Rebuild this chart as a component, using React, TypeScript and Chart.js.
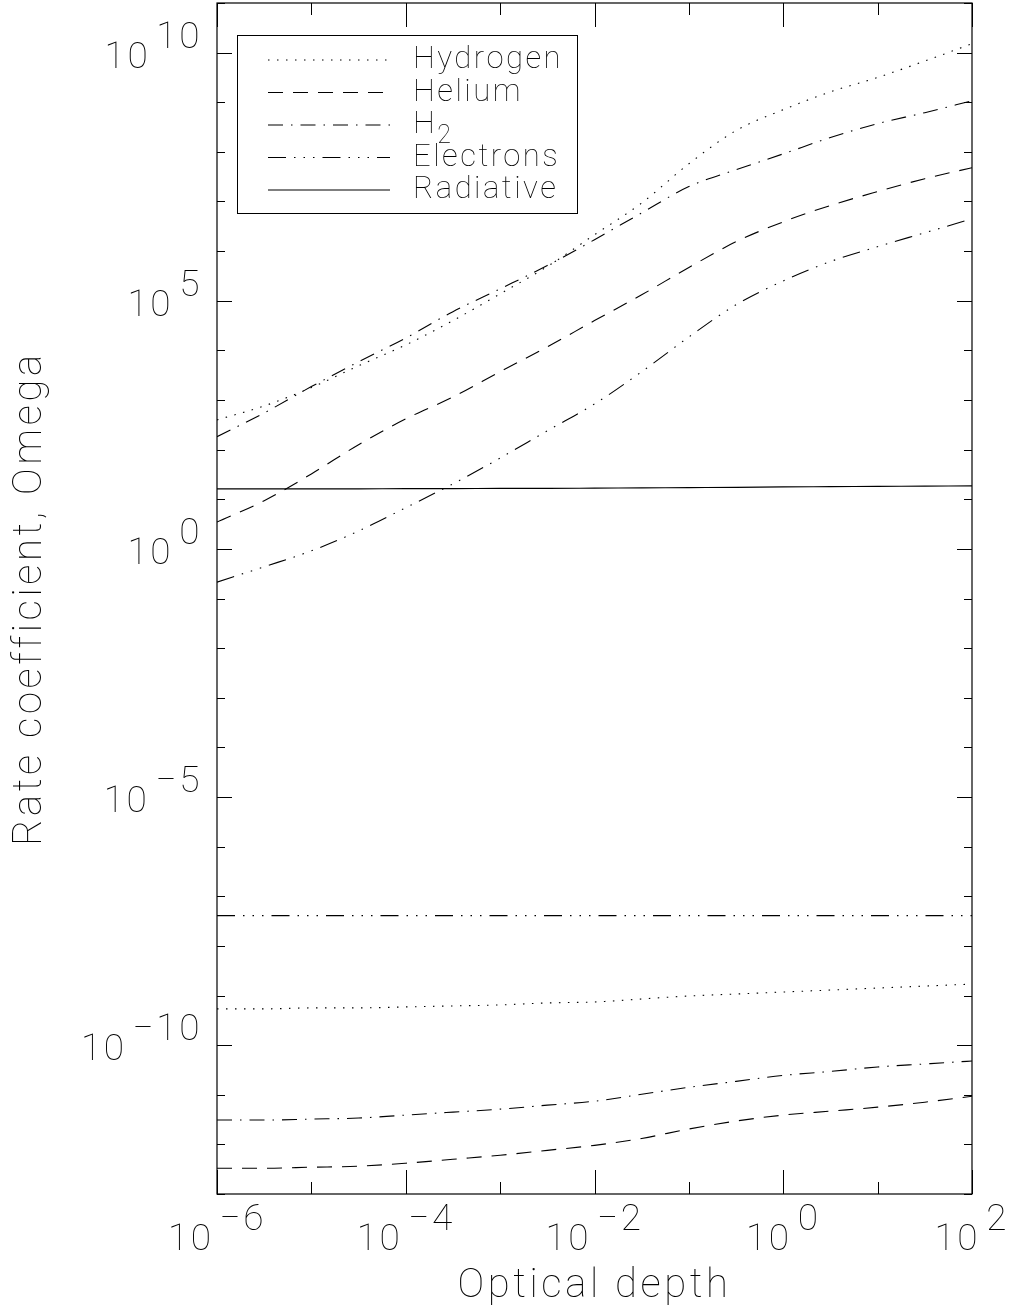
import React, { useEffect, useRef } from "react";
import { Chart, registerables } from "chart.js";

Chart.register(...registerables);

// Optical depth grid (log10 tau)
const TAU_LOG10 = [-6, -5.5, -5, -4.5, -4, -3.5, -3, -2.5, -2, -1.5, -1, -0.5, 0, 0.5, 1, 1.5, 2];

// Rate coefficients (log10 Omega), upper and lower branches per collider
const HYDROGEN_UPPER = [2.6, 2.88, 3.25, 3.69, 4.11, 4.6, 5.14, 5.69, 6.33, 6.97, 7.76, 8.43, 8.85, 9.21, 9.5, 9.83, 10.18];
const HYDROGEN_LOWER = [-9.27, -9.27, -9.25, -9.25, -9.23, -9.21, -9.19, -9.15, -9.13, -9.07, -9.01, -8.97, -8.93, -8.89, -8.85, -8.81, -8.77];
const HELIUM_UPPER = [0.54, 0.97, 1.51, 2.1, 2.62, 3.06, 3.57, 4.07, 4.6, 5.12, 5.67, 6.19, 6.59, 6.92, 7.2, 7.46, 7.68];
const HELIUM_LOWER = [-12.48, -12.48, -12.46, -12.44, -12.38, -12.3, -12.22, -12.12, -12.02, -11.88, -11.69, -11.53, -11.41, -11.33, -11.25, -11.15, -11.03];
const H2_UPPER = [2.26, 2.74, 3.27, 3.77, 4.25, 4.78, 5.24, 5.71, 6.23, 6.77, 7.3, 7.64, 7.96, 8.29, 8.57, 8.79, 9.03];
const H2_LOWER = [-11.51, -11.51, -11.49, -11.47, -11.41, -11.35, -11.29, -11.21, -11.13, -10.99, -10.85, -10.73, -10.61, -10.53, -10.44, -10.38, -10.32];
const ELECTRONS_UPPER = [-0.67, -0.36, -0.04, 0.36, 0.83, 1.31, 1.83, 2.38, 2.92, 3.57, 4.27, 4.92, 5.4, 5.79, 6.09, 6.37, 6.65];
const ELECTRONS_LOWER = [-7.39, -7.39, -7.39, -7.39, -7.39, -7.39, -7.39, -7.39, -7.39, -7.39, -7.39, -7.39, -7.39, -7.39, -7.39, -7.39, -7.39];
const RADIATIVE = [1.21, 1.21, 1.21, 1.21, 1.215, 1.215, 1.22, 1.22, 1.225, 1.23, 1.235, 1.24, 1.25, 1.255, 1.26, 1.265, 1.27];

const LEGEND_LABELS = ["Hydrogen", "Helium", "H2", "Electrons", "Radiative"];
const X_TICK_EXPONENTS = [-6, -4, -2, 0, 2];
const Y_TICK_EXPONENTS = [10, 5, 0, -5, -10];
const X_TITLE = "Optical depth";
const Y_TITLE = "Rate coefficient, Omega";

const DASHES: number[][] = [
  [1.5, 7.5],
  [15, 10],
  [15, 8, 1.5, 8],
  [18, 8, 1.5, 8, 1.5, 8, 1.5, 8],
  [],
];

const FONT_FAMILY = "Roboto, 'Liberation Sans', sans-serif";
const FONT_WEIGHT = "100";

function series(vals: number[]) {
  return TAU_LOG10.map((t, i) => ({ x: Math.pow(10, t), y: Math.pow(10, vals[i]) }));
}

export default function App() {
  const ref = useRef<HTMLCanvasElement | null>(null);

  useEffect(() => {
    const canvas = ref.current;
    if (!canvas) return;

    const groups = [
      [HYDROGEN_UPPER, HYDROGEN_LOWER],
      [HELIUM_UPPER, HELIUM_LOWER],
      [H2_UPPER, H2_LOWER],
      [ELECTRONS_UPPER, ELECTRONS_LOWER],
      [RADIATIVE],
    ];
    const datasets: any[] = [];
    groups.forEach((g, gi) => {
      g.forEach((vals, k) => {
        datasets.push({
          label: LEGEND_LABELS[gi] + (k ? " (low)" : ""),
          data: series(vals),
          borderColor: "#000",
          borderWidth: 1.1,
          borderDash: DASHES[gi],
          pointRadius: 0,
          fill: false,
          cubicInterpolationMode: "monotone",
        });
      });
    });

    const setFont = (ctx: CanvasRenderingContext2D, size: number, spacing = 0.07) => {
      ctx.font = `${FONT_WEIGHT} ${size}px ${FONT_FAMILY}`;
      (ctx as any).letterSpacing = `${(size * spacing).toFixed(1)}px`;
    };

    const decor = {
      id: "decor",
      afterDraw(chart: any) {
        const ctx: CanvasRenderingContext2D = chart.ctx;
        const xs = chart.scales.x;
        const ys = chart.scales.y;
        const a = chart.chartArea;
        ctx.save();
        ctx.strokeStyle = "#000";
        ctx.fillStyle = "#000";
        ctx.lineWidth = 1.2;
        ctx.setLineDash([]);
        // frame
        ctx.strokeRect(a.left, a.top, a.right - a.left, a.bottom - a.top);
        // x ticks (every decade, long at even exponents)
        ctx.lineWidth = 1;
        for (let e = -6; e <= 2; e++) {
          const px = Math.round(xs.getPixelForValue(Math.pow(10, e))) + 0.5;
          const len = e % 2 === 0 ? 24 : 12;
          ctx.beginPath();
          ctx.moveTo(px, a.bottom);
          ctx.lineTo(px, a.bottom - len);
          ctx.moveTo(px, a.top);
          ctx.lineTo(px, a.top + len);
          ctx.stroke();
        }
        // y ticks
        for (let e = -13; e <= 11; e++) {
          const py = Math.round(ys.getPixelForValue(Math.pow(10, e))) + 0.5;
          const len = e % 5 === 0 ? 15 : 8;
          ctx.beginPath();
          ctx.moveTo(a.left, py);
          ctx.lineTo(a.left + len, py);
          ctx.moveTo(a.right, py);
          ctx.lineTo(a.right - len, py);
          ctx.stroke();
        }
        // tick labels
        const fs = 37;
        setFont(ctx, fs);
        ctx.textBaseline = "alphabetic";
        ctx.textAlign = "left";
        const expStr = (e: number) => (e < 0 ? "\u2212" + Math.abs(e) : String(e));
        const gap = 6;
        X_TICK_EXPONENTS.forEach((e) => {
          const px = xs.getPixelForValue(Math.pow(10, e));
          const bw = ctx.measureText("10").width;
          const ew = ctx.measureText(expStr(e)).width;
          const total = bw + gap + ew;
          const x0 = Math.min(px - total / 2, 1009 - total);
          ctx.fillText("10", x0, 1250);
          ctx.fillText(expStr(e), x0 + bw + gap, 1230);
        });
        Y_TICK_EXPONENTS.forEach((e) => {
          const py = ys.getPixelForValue(Math.pow(10, e));
          const bw = ctx.measureText("10").width;
          const ew = ctx.measureText(expStr(e)).width;
          const right = 202;
          ctx.fillText(expStr(e), right - ew, py - 5);
          ctx.fillText("10", right - ew - gap - bw, py + 15);
        });
        // axis titles
        setFont(ctx, 40, 0.09);
        ctx.textAlign = "center";
        ctx.fillText(X_TITLE, (a.left + a.right) / 2, 1297);
        ctx.save();
        ctx.translate(41, (a.top + a.bottom) / 2);
        ctx.rotate(-Math.PI / 2);
        ctx.fillText(Y_TITLE, 0, 0);
        ctx.restore();

        // legend
        ctx.lineWidth = 1;
        ctx.strokeRect(237.5, 35.5, 340, 178);
        const rowBase = [68, 100.5, 133, 165.5, 198];
        const lfs = 31;
        LEGEND_LABELS.forEach((lab, i) => {
          const base = rowBase[i];
          ctx.setLineDash(DASHES[i]);
          ctx.lineWidth = 1.1;
          ctx.beginPath();
          ctx.moveTo(268, base - 8);
          ctx.lineTo(390, base - 8);
          ctx.stroke();
          ctx.setLineDash([]);
          setFont(ctx, lfs, 0.08);
          ctx.textAlign = "left";
          if (lab === "H2") {
            ctx.fillText("H", 413, base);
            const hw = ctx.measureText("H").width;
            setFont(ctx, 25, 0.08);
            ctx.fillText("2", 413 + hw, base + 10);
          } else {
            ctx.fillText(lab, 413, base);
          }
        });
        ctx.restore();
      },
    };

    const chart = new Chart(canvas, {
      type: "line",
      data: { datasets },
      options: {
        responsive: false,
        animation: false,
        layout: { padding: { left: 217, right: 39, top: 3, bottom: 119 } },
        plugins: { legend: { display: false }, tooltip: { enabled: false } },
        scales: {
          x: { type: "logarithmic", min: 1e-6, max: 1e2, display: false },
          y: { type: "logarithmic", min: 1e-13, max: 1e11, display: false },
        },
      },
      plugins: [decor],
    } as any);
    return () => chart.destroy();
  }, []);

  return (
    <div style={{ position: "absolute", left: 0, top: 0, width: 1011, height: 1313, background: "#fff" }}>
      <canvas ref={ref} width={1011} height={1313} style={{ width: 1011, height: 1313, display: "block" }} />
    </div>
  );
}
